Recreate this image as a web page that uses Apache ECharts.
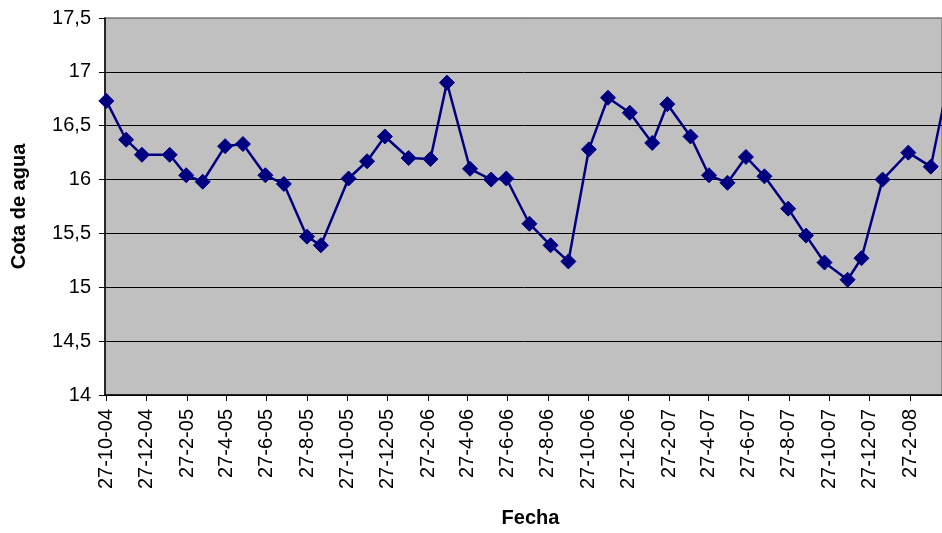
<!DOCTYPE html>
<html>
<head>
<meta charset="utf-8">
<script src="https://cdn.jsdelivr.net/npm/echarts@6/dist/echarts.min.js"></script>
<style>
  html, body { margin: 0; padding: 0; background: #fff; }
  #chart { width: 942px; height: 533px; }
</style>
</head>
<body>
<div id="chart"></div>
<script>
// Water level readings (Cota de agua) by measurement date
const fechas = [
  '2004-10-27', '2004-11-26', '2004-12-20', '2005-01-31', '2005-02-25', '2005-03-22',
  '2005-04-25', '2005-05-22', '2005-06-25', '2005-07-23', '2005-08-27', '2005-09-17',
  '2005-10-29', '2005-11-26', '2005-12-23', '2006-01-28', '2006-03-02', '2006-03-27',
  '2006-05-01', '2006-06-02', '2006-06-25', '2006-07-30', '2006-08-31', '2006-09-27',
  '2006-10-28', '2006-11-26', '2006-12-29', '2007-02-01', '2007-02-24', '2007-03-31',
  '2007-04-28', '2007-05-26', '2007-06-23', '2007-07-21', '2007-08-26', '2007-09-22',
  '2007-10-20', '2007-11-24', '2007-12-15', '2008-01-16', '2008-02-24', '2008-03-29',
  '2008-04-23'
];
const cotas = [
  16.73, 16.37, 16.23, 16.23, 16.04, 15.98,
  16.31, 16.33, 16.04, 15.96, 15.47, 15.39,
  16.01, 16.17, 16.40, 16.20, 16.19, 16.90,
  16.10, 16.00, 16.01, 15.59, 15.39, 15.24,
  16.28, 16.76, 16.62, 16.34, 16.70, 16.40,
  16.04, 15.97, 16.21, 16.03, 15.73, 15.48,
  15.23, 15.07, 15.27, 16.00, 16.25, 16.12,
  16.86
];
// Tick dates along the date axis (every two months, on the 27th)
const fechasEje = [
  '2004-10-27', '2004-12-27', '2005-02-27', '2005-04-27', '2005-06-27', '2005-08-27',
  '2005-10-27', '2005-12-27', '2006-02-27', '2006-04-27', '2006-06-27', '2006-08-27',
  '2006-10-27', '2006-12-27', '2007-02-27', '2007-04-27', '2007-06-27', '2007-08-27',
  '2007-10-27', '2007-12-27', '2008-02-27'
];
const inicioEje = '2004-10-25';
const finEje = '2008-04-15';

// Dates are handled as whole days counted in UTC to keep spacing exact
function aDia(s) {
  const p = s.split('-').map(Number);
  return Date.UTC(p[0], p[1] - 1, p[2]) / 86400000;
}
function etiquetaFecha(v) {
  const d = new Date(Math.round(v) * 86400000);
  return d.getUTCDate() + '-' + (d.getUTCMonth() + 1) + '-' + String(d.getUTCFullYear()).slice(2);
}

const serie = fechas.map((f, i) => [aDia(f), cotas[i]]);
const ticks = fechasEje.map(aDia);
const fuente = '"Liberation Sans", Arial, sans-serif';

const chart = echarts.init(document.getElementById('chart'), null, { renderer: 'canvas' });
chart.setOption({
  animation: false,
  backgroundColor: '#ffffff',
  grid: {
    left: 105, top: 18, right: -3, bottom: 138,
    show: true, backgroundColor: '#c0c0c0', borderColor: '#808080', borderWidth: 1.5
  },
  xAxis: {
    type: 'value',
    min: aDia(inicioEje),
    max: aDia(finEje),
    name: 'Fecha',
    nameLocation: 'middle',
    nameGap: 113,
    nameTextStyle: { fontFamily: fuente, fontWeight: 'bold', fontSize: 20, color: '#000', padding: [0, 0, 0, 14] },
    axisLine: { show: true, onZero: false, lineStyle: { color: '#000', width: 1.5 } },
    axisTick: { show: true, length: 6, inside: false, customValues: ticks, lineStyle: { color: '#000' } },
    axisLabel: {
      customValues: ticks,
      rotate: 90,
      margin: 14,
      fontFamily: fuente,
      fontSize: 20,
      color: '#000',
      formatter: etiquetaFecha
    },
    splitLine: { show: false }
  },
  yAxis: {
    type: 'value',
    min: 14,
    max: 17.5,
    interval: 0.5,
    name: 'Cota de agua',
    nameLocation: 'middle',
    nameRotate: 90,
    nameGap: 76,
    nameTextStyle: { fontFamily: fuente, fontWeight: 'bold', fontSize: 20, color: '#000' },
    axisLine: { show: true, lineStyle: { color: '#000', width: 1.5 } },
    axisTick: { show: true, length: 6, lineStyle: { color: '#000' } },
    axisLabel: {
      margin: 14,
      fontFamily: fuente,
      fontSize: 20,
      color: '#000',
      formatter: v => String(v).replace('.', ',')
    },
    splitLine: {
      show: true,
      lineStyle: { color: ['#000', '#000', '#000', '#000', '#000', '#000', '#000', '#808080'], width: 1 }
    }
  },
  series: [{
    type: 'line',
    data: serie,
    clip: true,
    symbol: 'diamond',
    symbolSize: 15,
    lineStyle: { color: '#000080', width: 2.5 },
    itemStyle: { color: '#000080', borderColor: '#000080' }
  }]
});
</script>
</body>
</html>
